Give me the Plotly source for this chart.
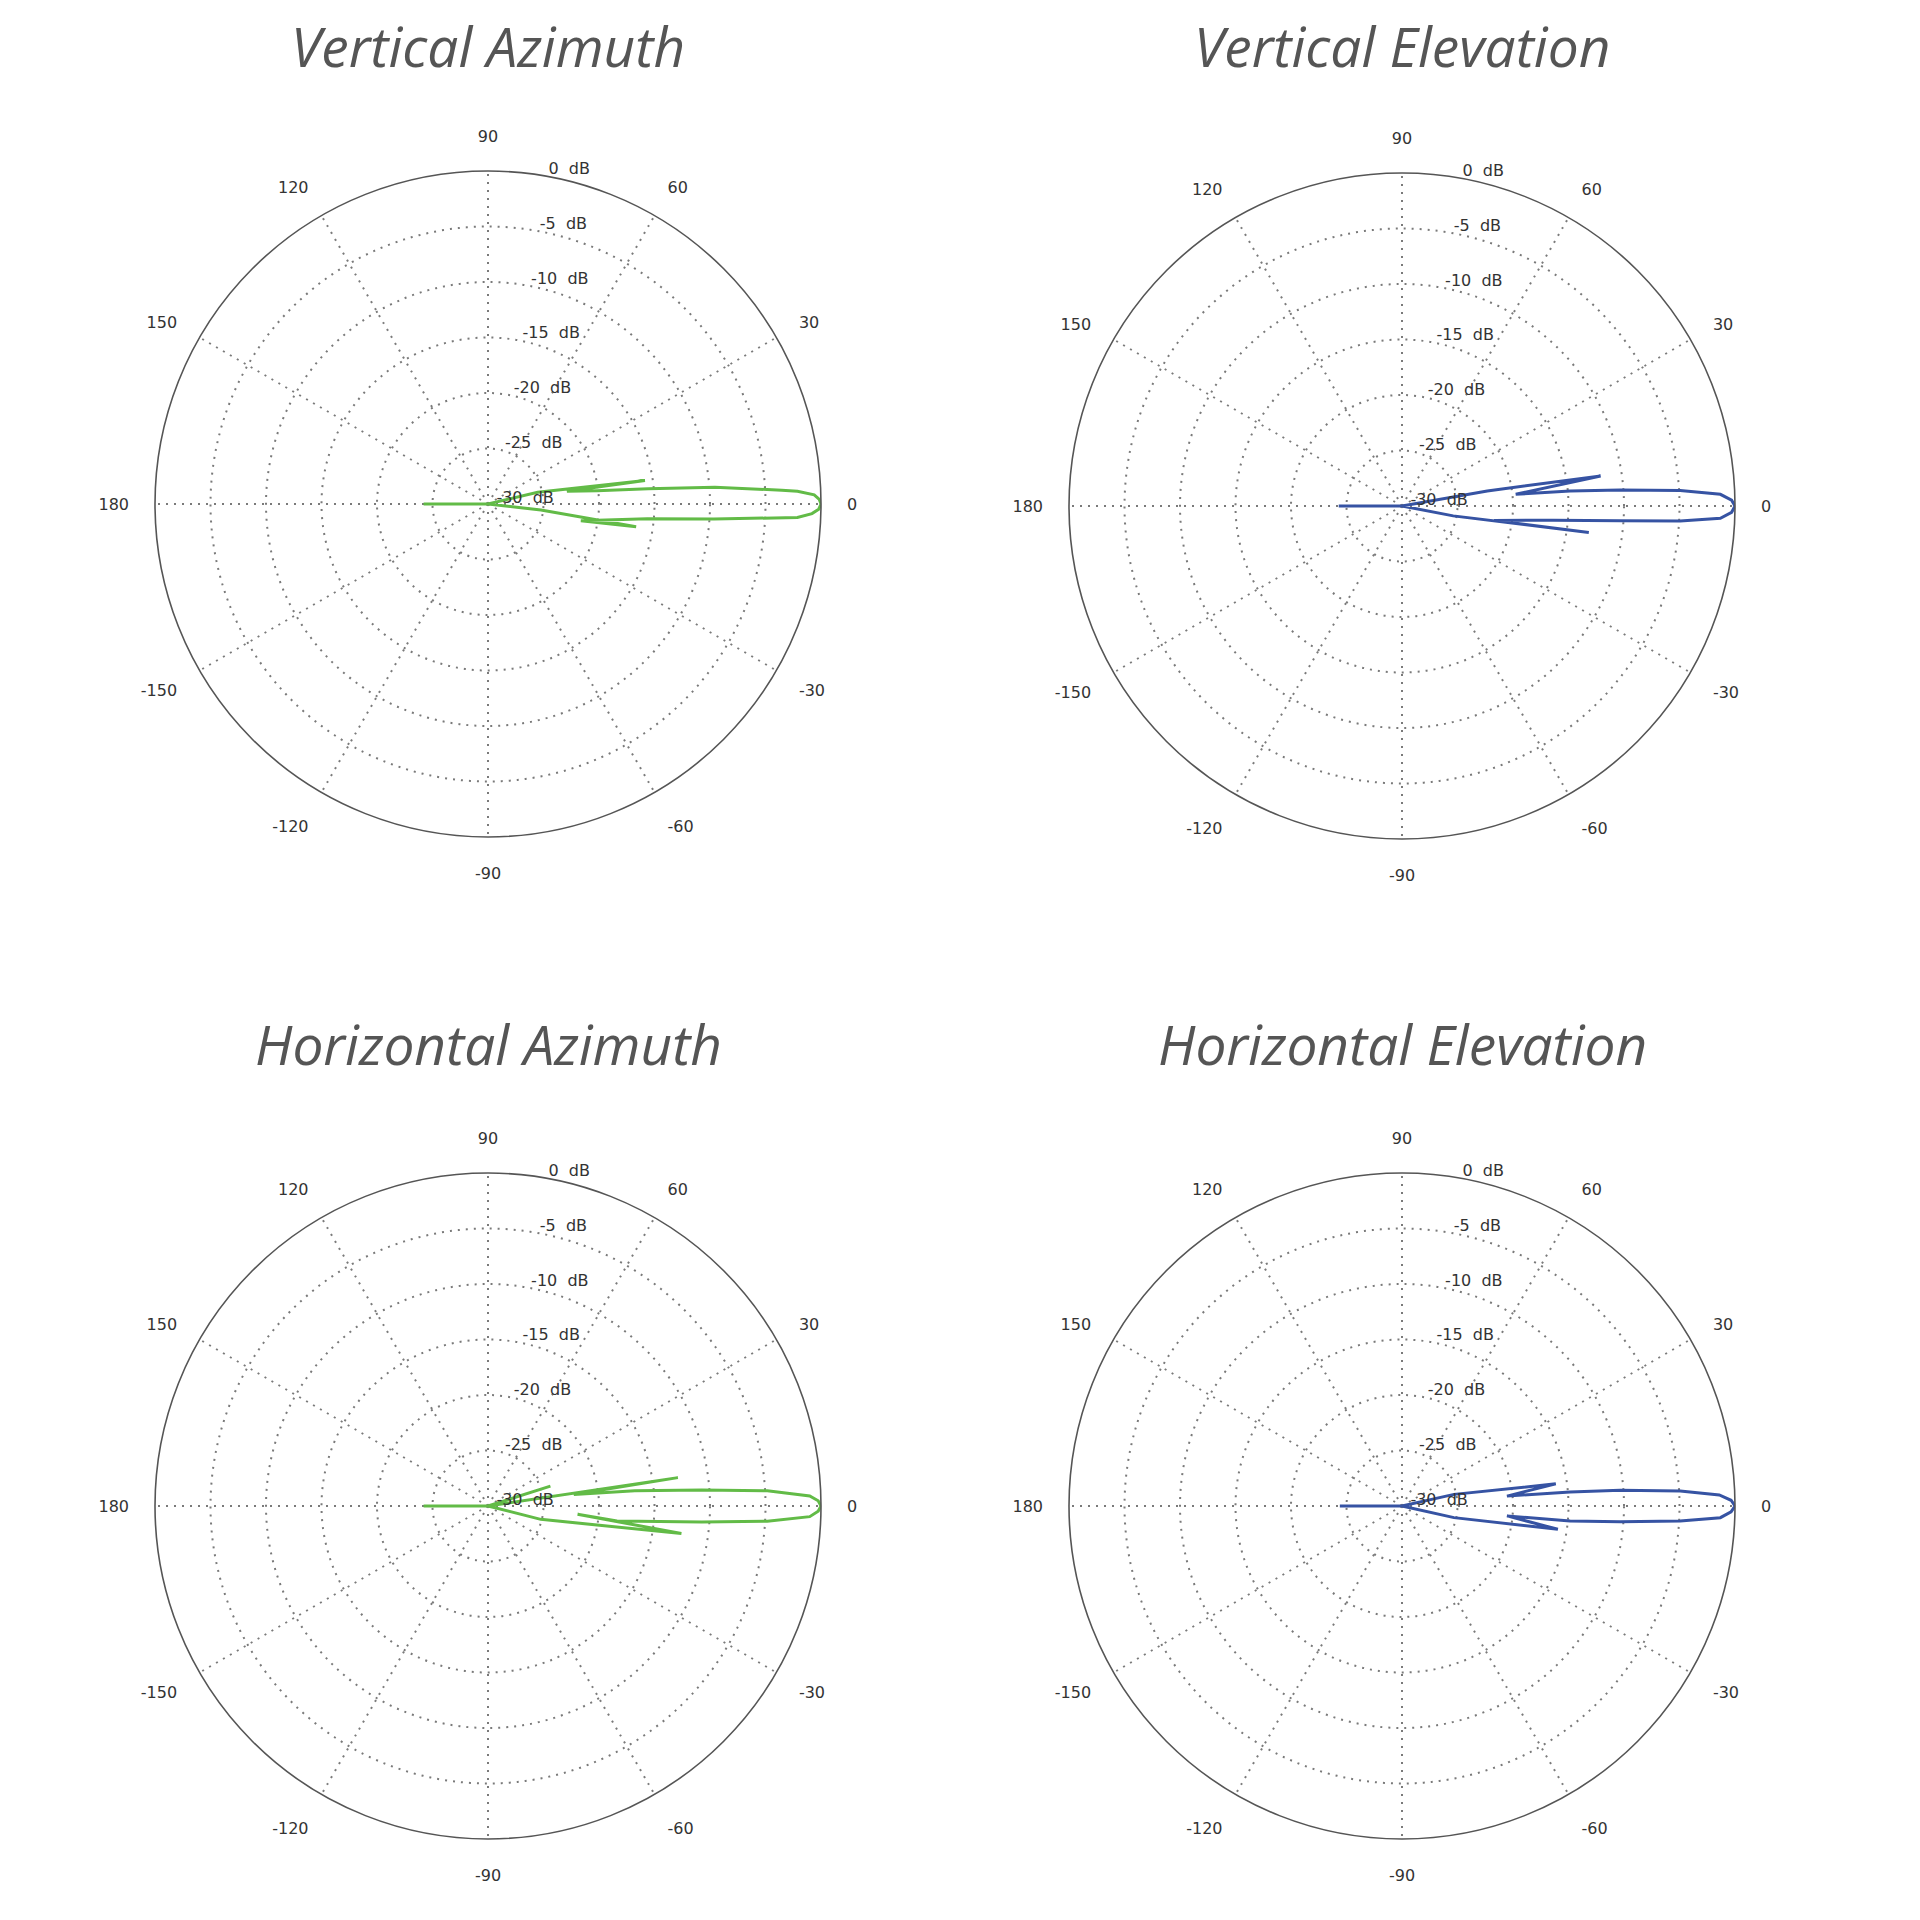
import plotly.graph_objects as go

# Pattern outlines: angle in degrees, level in dB
va_theta = [0, 180, 0, 13.3, 8.5, 9.1, 6.9, 5.4, 4.2, 2.7, 2.35, 1.6, 0.8, 0, -0.9, -1.7, -2.5, -3.8, -5.3, -10.2, -8.7, -6.5, 0]
va_db = [-30, -24.2, -30, -25.4, -15.7, -22.8, -20.1, -15.5, -9.5, -3.5, -2.1, -0.6, -0.15, 0, -0.2, -0.8, -2.1, -9.6, -15.6, -21.5, -16.5, -25.2, -30]

ve_theta = [0, 180, 0, 10.0, 8.6, 5.9, 5.1, 4.2, 3.2, 2.1, 1.0, 0, -1.1, -2.2, -3.1, -3.9, -5.4, -8.9, -8.1, -10.9, 0]
ve_db = [-30, -24.3, -30, -22.2, -11.9, -19.7, -14.8, -10.3, -4.9, -1.3, -0.3, 0, -0.3, -1.3, -4.9, -10.3, -16.3, -21.6, -13.0, -25.3, -30]

ha_theta = [0, 180, 0, 17.7, 0, 8.5, 7.7, 5.9, 4.3, 3.1, 1.8, 0.9, 0, -0.9, -1.9, -3.1, -4.3, -6.6, -5.3, -8.1, -14.2, 0]
ha_db = [-30, -24.2, -30, -24.1, -30, -12.7, -22.2, -16.7, -10.7, -4.8, -1.0, -0.25, 0, -0.25, -1.0, -4.8, -10.7, -18.3, -21.9, -12.4, -25.1, -30]

he_theta = [0, 180, 0, 12.6, 8.2, 5.4, 4.8, 4.1, 3.1, 2.0, 1.0, 0, -1.0, -2.1, -3.1, -4.1, -5.1, -5.4, -8.5, -12.6, 0]
he_db = [-30, -24.4, -30, -25.2, -16.0, -20.5, -14.8, -10.3, -4.9, -1.4, -0.35, 0, -0.35, -1.3, -4.9, -10.3, -14.8, -20.5, -15.8, -25.2, -30]

titles = ["Vertical Azimuth", "Vertical Elevation", "Horizontal Azimuth", "Horizontal Elevation"]

angle_ticks = [0, 30, 60, 90, 120, 150, 180, 210, 240, 270, 300, 330]
angle_labels = ["0", "30", "60", "90", "120", "150", "180", "-150", "-120", "-90", "-60", "-30"]
db_ticks = [-30, -25, -20, -15, -10, -5, 0]
db_labels = ["-30", "-25", "-20", "-15", "-10", "-5", "0"]

GREEN = "#62bb47"
BLUE = "#3653a3"
W = 1920
R = 333  # polar radius in px

# pixel centres of the four plots
centers = [(480, 496), (1394, 498), (480, 1498), (1394, 1498)]
title_y = [37, 37, 1035, 1035]

# labels sit a little above their ring in the original, so give them an empty second line
db_text = [f"{s}\u00a0\u00a0dB<br>\u00a0" for s in db_labels]

fig = go.Figure()

series = [(va_theta, va_db, GREEN), (ve_theta, ve_db, BLUE),
          (ha_theta, ha_db, GREEN), (he_theta, he_db, BLUE)]

tick_font = dict(family="DejaVu Sans", size=16, color="#333333")
grid = dict(gridcolor="#7a7a7a", griddash="2px,6px", gridwidth=1.6)

for i, (th, db, col) in enumerate(series):
    name = "polar" if i == 0 else f"polar{i + 1}"
    fig.add_trace(go.Scatterpolar(
        theta=th, r=db, mode="lines",
        line=dict(color=col, width=3),
        subplot=name, showlegend=False
    ))
    cx, cy = centers[i]
    fig.update_layout({name: dict(
        domain=dict(x=[(cx - R) / W, (cx + R) / W], y=[1 - (cy + R) / W, 1 - (cy - R) / W]),
        bgcolor="white",
        radialaxis=dict(
            range=[-30, 0], tickvals=db_ticks, ticktext=db_text,
            angle=81, tickangle=81, side="clockwise",
            showline=False, ticks="",
            tickfont=tick_font, **grid
        ),
        angularaxis=dict(
            rotation=0, direction="counterclockwise",
            tickvals=angle_ticks, ticktext=angle_labels,
            showline=True, linecolor="#555555", linewidth=1.6,
            ticks="outside", ticklen=22, tickcolor="rgba(0,0,0,0)",
            tickfont=tick_font, **grid
        )
    )})
    fig.add_annotation(
        text=titles[i], x=cx / W, y=1 - title_y[i] / W,
        xref="paper", yref="paper", xanchor="center", yanchor="middle",
        showarrow=False,
        font=dict(family="Open Sans", size=55, color="#555555", style="italic")
    )

fig.update_layout(
    width=1920, height=1920,
    paper_bgcolor="white",
    margin=dict(l=0, r=0, t=0, b=0)
)

fig.write_html("out.html")
